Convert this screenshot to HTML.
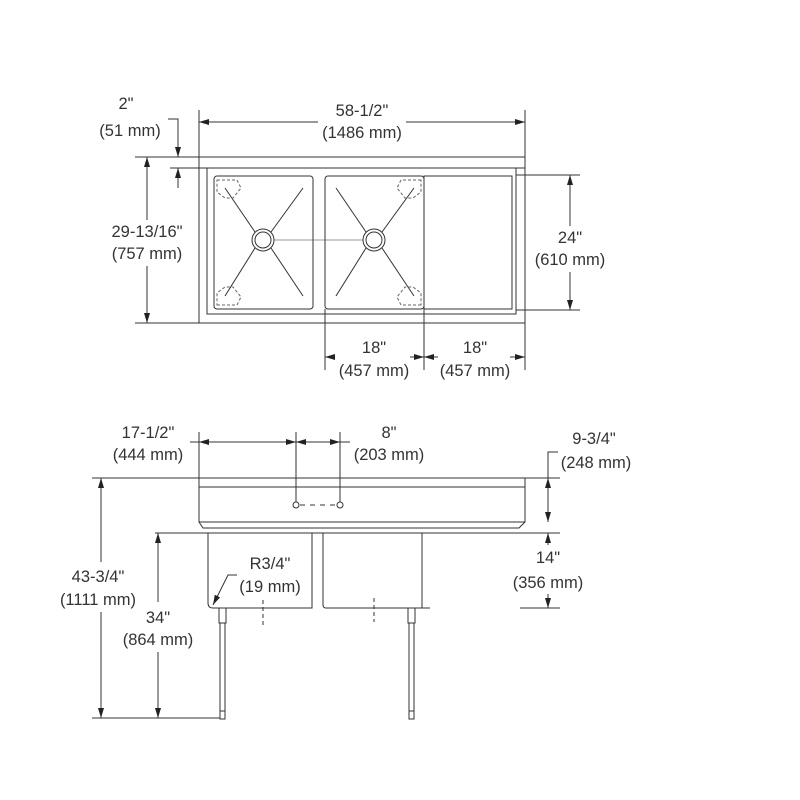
<!DOCTYPE html>
<html><head><style>body{margin:0;background:#fff}svg{display:block}text{font-family:"Liberation Sans",sans-serif;font-size:16.5px;fill:#333;text-anchor:middle}</style></head>
<body>
<svg width="800" height="800" viewBox="0 0 800 800" xmlns="http://www.w3.org/2000/svg">
<defs>
<marker id="a" viewBox="0 0 10 6" refX="10" refY="3" markerWidth="10" markerHeight="6" orient="auto-start-reverse" markerUnits="userSpaceOnUse"><path d="M0,0 L10,3 L0,6z" fill="#222"/></marker>
</defs>
<g stroke="#333" stroke-width="1" fill="none">
<rect x="199" y="157" width="326" height="166"/>
<line x1="199" y1="168" x2="525" y2="168"/>
<rect x="207" y="168" width="309" height="146"/>
<rect x="214" y="176" width="99" height="133" rx="3"/>
<rect x="325" y="176" width="99" height="133" rx="3"/>
<rect x="424" y="176" width="88" height="133"/>
<circle cx="263" cy="240" r="11"/><circle cx="263" cy="240" r="8"/>
<circle cx="374" cy="240" r="11"/><circle cx="374" cy="240" r="8"/>
<line x1="225" y1="188" x2="255" y2="232"/><line x1="303" y1="188" x2="271" y2="232"/>
<line x1="225" y1="296" x2="255" y2="248"/><line x1="303" y1="296" x2="271" y2="248"/>
<line x1="336" y1="188" x2="366" y2="232"/><line x1="414" y1="188" x2="382" y2="232"/>
<line x1="336" y1="296" x2="366" y2="248"/><line x1="414" y1="296" x2="382" y2="248"/>
<line x1="274" y1="240" x2="363" y2="240" stroke-width="0.6"/>
<g stroke-dasharray="3,2" stroke="#666">
<path d="M217,180 h20 l4,8 l-8,10 h-8 l-8,-6z"/><path d="M217,305 h20 l4,-8 l-8,-10 h-8 l-8,6z"/>
<path d="M421,180 h-20 l-4,8 l8,10 h8 l8,-6z"/><path d="M421,305 h-20 l-4,-8 l8,-10 h8 l8,6z"/>
</g>
<line x1="199" y1="110" x2="199" y2="157"/><line x1="525" y1="110" x2="525" y2="157"/>
<line x1="199" y1="122" x2="318" y2="122" marker-start="url(#a)"/><line x1="406" y1="122" x2="525" y2="122" marker-end="url(#a)"/>
<polyline points="168,119 178,119 178,157" marker-end="url(#a)"/>
<line x1="178" y1="188" x2="178" y2="168" marker-end="url(#a)"/>
<line x1="170" y1="168" x2="199" y2="168"/>
<line x1="135" y1="157" x2="199" y2="157"/><line x1="135" y1="323" x2="199" y2="323"/>
<line x1="147" y1="220" x2="147" y2="157" marker-end="url(#a)"/><line x1="147" y1="266" x2="147" y2="323" marker-end="url(#a)"/>
<line x1="516" y1="175" x2="580" y2="175"/><line x1="516" y1="310" x2="580" y2="310"/>
<line x1="570" y1="226" x2="570" y2="175" marker-end="url(#a)"/><line x1="570" y1="272" x2="570" y2="310" marker-end="url(#a)"/>
<line x1="325" y1="309" x2="325" y2="370"/><line x1="424" y1="309" x2="424" y2="370"/><line x1="525" y1="323" x2="525" y2="370"/>
<line x1="335" y1="357" x2="325" y2="357" marker-end="url(#a)"/><line x1="410" y1="357" x2="424" y2="357" marker-end="url(#a)"/>
<line x1="438" y1="357" x2="424" y2="357" marker-end="url(#a)"/><line x1="510" y1="357" x2="525" y2="357" marker-end="url(#a)"/>
<line x1="92" y1="478" x2="560" y2="478"/>
<rect x="199" y="478" width="326" height="44"/>
<line x1="199" y1="487" x2="525" y2="487"/>
<path d="M199,522 L203,528 H519 L525,522"/>
<path d="M208,533 V603 q0,5 5,5 H312 V533"/>
<path d="M323,533 V605 q0,3 3,3 H422 V533"/>
<line x1="155" y1="533" x2="560" y2="533"/>
<line x1="520" y1="608" x2="560" y2="608"/><line x1="422" y1="608" x2="430" y2="608"/>
<circle cx="296" cy="505" r="3"/><circle cx="340" cy="505" r="3"/>
<line x1="300" y1="505" x2="336" y2="505" stroke-dasharray="5,5"/>
<rect x="219" y="608" width="7" height="15"/><rect x="220" y="623" width="5" height="88"/><rect x="220" y="711" width="5" height="8"/>
<rect x="408" y="608" width="7" height="15"/><rect x="409" y="623" width="5" height="88"/><rect x="409" y="711" width="5" height="8"/>
<line x1="263" y1="600" x2="263" y2="628" stroke-dasharray="4,3"/><line x1="374" y1="598" x2="374" y2="622" stroke-dasharray="4,3"/>
<line x1="92" y1="718" x2="220" y2="718"/>
<line x1="199" y1="432" x2="199" y2="478"/><line x1="296" y1="432" x2="296" y2="502"/><line x1="340" y1="432" x2="340" y2="502"/>
<line x1="190" y1="442" x2="199" y2="442"/>
<line x1="230" y1="442" x2="199" y2="442" marker-end="url(#a)"/><line x1="230" y1="442" x2="296" y2="442" marker-end="url(#a)"/>
<line x1="310" y1="442" x2="296" y2="442" marker-end="url(#a)"/><line x1="310" y1="442" x2="340" y2="442" marker-end="url(#a)"/>
<line x1="340" y1="442" x2="350" y2="442"/>
<line x1="101" y1="562" x2="101" y2="478" marker-end="url(#a)"/><line x1="101" y1="612" x2="101" y2="718" marker-end="url(#a)"/>
<line x1="158" y1="602" x2="158" y2="533" marker-end="url(#a)"/><line x1="158" y1="652" x2="158" y2="718" marker-end="url(#a)"/>
<polyline points="558,452 548,452 548,478"/>
<line x1="548" y1="500" x2="548" y2="478" marker-end="url(#a)"/><line x1="548" y1="500" x2="548" y2="522" marker-end="url(#a)"/>
<line x1="548" y1="545" x2="548" y2="533" marker-end="url(#a)"/><line x1="548" y1="594" x2="548" y2="608" marker-end="url(#a)"/>
<polyline points="237,575 228,575 213,605" marker-end="url(#a)"/>
</g>
<text x="126" y="109">2"</text><text x="130" y="136">(51 mm)</text>
<text x="362" y="116">58-1/2"</text><text x="362" y="138">(1486 mm)</text>
<text x="147" y="237">29-13/16"</text><text x="147" y="259">(757 mm)</text>
<text x="570" y="243">24"</text><text x="570" y="265">(610 mm)</text>
<text x="374" y="353">18"</text><text x="374" y="376">(457 mm)</text>
<text x="475" y="353">18"</text><text x="475" y="376">(457 mm)</text>
<text x="148" y="438">17-1/2"</text><text x="148" y="460">(444 mm)</text>
<text x="389" y="438">8"</text><text x="389" y="460">(203 mm)</text>
<text x="594" y="444">9-3/4"</text><text x="596" y="468">(248 mm)</text>
<text x="270" y="569">R3/4"</text><text x="270" y="592">(19 mm)</text>
<text x="548" y="563">14"</text><text x="548" y="588">(356 mm)</text>
<text x="98" y="582">43-3/4"</text><text x="98" y="605">(1111 mm)</text>
<text x="158" y="623">34"</text><text x="158" y="645">(864 mm)</text>
</svg>
</body></html>
